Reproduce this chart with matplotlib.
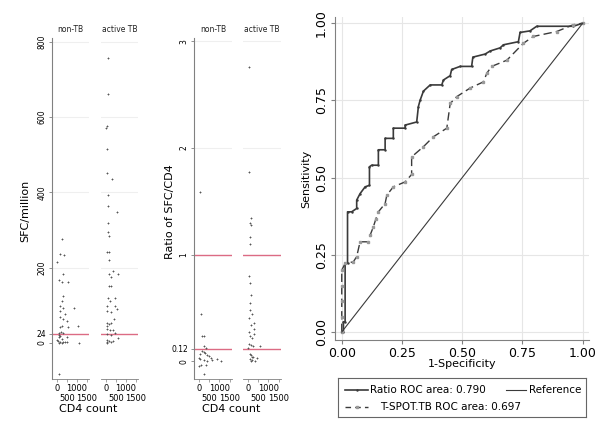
import numpy as np
import matplotlib
matplotlib.use("Agg")
import matplotlib.pyplot as plt

plt.rcParams['font.family'] = ['DejaVu Sans']

# SFC/million vs CD4 count
sfc_non_cd4 = [240, 160, 370, 0, 320, 80, 240, 530, 320, 240, 160, 320, 880, 160, 400, 160, 320,
               480, 240, 160, 1045, 560, 80, 320, 160, 480, 80, 240, 30, 160, 320, 480, 1100, 80,
               240, 400, 0, 120, 200, 80]
sfc_non_val = [276, 236, 234, 216, 183, 167, 161, 161, 124, 112, 99, 92, 92, 85, 78, 68, 63,
               59, 45, 43, 45, 43, 27, 27, 19, 16, 16, 10, 5, 1, 1, 1, 0, 0,
               0, 3, 8, 22, 30, -83]
sfc_act_cd4 = [83, 83, 70, 0, 50, 70, 300, 80, 100, 570, 80, 110, 150, 50, 130, 130, 330, 130,
               620, 230, 230, 130, 80, 450, 180, 50, 450, 550, 70, 230, 400, 50, 130, 230, 70,
               30, 180, 330, 450, 50, 230, 600, 30, 130, 330, 30, 70, 230]
sfc_act_val = [757, 661, 575, 570, 514, 452, 436, 394, 364, 347, 319, 294, 285, 241, 241, 219,
               192, 183, 183, 176, 152, 152, 119, 119, 112, 99, 99, 91, 85, 81, 63, 54, 50, 54,
               45, 37, 33, 34, 27, 24, 20, 14, 8, 5, 6, 1, 0, 1]

# ratio of SFC/CD4 vs CD4 count
rat_non_cd4 = [50, 80, 150, 230, 230, 350, 150, 230, 50, 300, 400, 480, 600, 0, 50, 230, 400,
               650, 870, 1060, 80, 330, 0, 230]
rat_non_val = [1.59, 0.445, 0.24, 0.24, 0.146, 0.13, 0.1, 0.09, 0.07, 0.08, 0.06, 0.05, 0.035,
               0.035, 0.02, 0.01, 0.0, 0.01, 0.02, 0.0, -0.03, -0.03, -0.04, -0.12]
rat_act_cd4 = [50, 50, 150, 100, 150, 80, 100, 20, 100, 150, 80, 100, 200, 60, 260, 150, 300,
               30, 260, 80, 200, 60, 150, 210, 0, 600, 80, 150, 200, 250, 450, 80, 200, 350, 120]
rat_act_val = [2.76, 1.77, 1.34, 1.30, 1.28, 1.17, 1.10, 0.80, 0.73, 0.62, 0.55, 0.48, 0.44,
               0.41, 0.36, 0.34, 0.30, 0.28, 0.26, 0.24, 0.22, 0.16, 0.15, 0.14, 0.13, 0.14,
               0.07, 0.06, 0.04, 0.04, 0.03, 0.02, 0.01, 0.0, 0.0]

# ROC curves
ratio_fpr = [0, 0.007, 0.007, 0.014, 0.014, 0.024, 0.024, 0.041, 0.062, 0.062, 0.076, 0.097,
             0.115, 0.115, 0.124, 0.152, 0.152, 0.18, 0.18, 0.214, 0.214, 0.263, 0.263, 0.311,
             0.318, 0.325, 0.339, 0.367, 0.415, 0.422, 0.45, 0.456, 0.491, 0.539, 0.544, 0.595,
             0.616, 0.657, 0.671, 0.733, 0.74, 0.781, 0.809, 0.961, 1.0]
ratio_tpr = [0, 0.0, 0.033, 0.033, 0.222, 0.222, 0.389, 0.389, 0.40, 0.427, 0.448, 0.47,
             0.475, 0.535, 0.54, 0.54, 0.59, 0.59, 0.627, 0.627, 0.66, 0.66, 0.67, 0.68,
             0.73, 0.75, 0.78, 0.80, 0.80, 0.816, 0.83, 0.85, 0.86, 0.86, 0.89, 0.90,
             0.91, 0.92, 0.93, 0.94, 0.97, 0.975, 0.99, 0.99, 1.0]
tspot_fpr = [0, 0, 0, 0, 0, 0.014, 0.048, 0.062, 0.076, 0.111, 0.118, 0.131, 0.142, 0.152,
             0.18, 0.187, 0.214, 0.263, 0.29, 0.29, 0.339, 0.38, 0.436, 0.45, 0.477, 0.533,
             0.588, 0.602, 0.622, 0.685, 0.754, 0.795, 0.892, 0.961, 1.0]
tspot_tpr = [0, 0.05, 0.10, 0.15, 0.20, 0.222, 0.227, 0.244, 0.292, 0.292, 0.314, 0.34, 0.367,
             0.389, 0.416, 0.443, 0.47, 0.486, 0.51, 0.567, 0.60, 0.632, 0.66, 0.74, 0.762,
             0.79, 0.81, 0.838, 0.86, 0.88, 0.935, 0.957, 0.973, 0.995, 1.0]

legend_labels = ['Ratio ROC area: 0.790', 'Reference', 'T-SPOT.TB ROC area: 0.697']

W, H = 600, 437
fig = plt.figure(figsize=(6, 4.37), dpi=100)


def px_axes(x0, y0, x1, y1):
    return fig.add_axes([x0 / W, 1 - y1 / H, (x1 - x0) / W, (y1 - y0) / H])


red = '#dc6b84'
grid = '#efefef'
axc = '#808080'


def strip_panel(ax, cd4, val, title, ylim, cut, first, yticks, ylabels, horiz):
    ax.set_xlim(-260, 1620)
    ax.set_ylim(*ylim)
    for t in yticks:
        if t not in (0, cut):
            ax.axhline(t, color=grid, lw=0.8, zorder=0)
    ax.axhline(cut, color=red, lw=1.0, zorder=1)
    ax.scatter(cd4, val, s=4, marker='+', color='#555555', linewidths=0.6, zorder=2)
    ax.spines['top'].set_visible(False)
    ax.spines['right'].set_visible(False)
    ax.spines['bottom'].set_color(axc)
    ax.spines['bottom'].set_linewidth(0.6)
    # staggered x labels: 0/1000 on first row, 500/1500 below
    ax.set_xticks([0, 1000])
    ax.set_xticklabels(['0', '1000'], fontsize=6)
    ax.set_xticks([500, 1500], minor=True)
    ax.set_xticklabels(['500', '1500'], minor=True, fontsize=6)
    ax.tick_params(axis='x', which='major', length=2, width=0.5, color=axc, pad=1.5)
    ax.tick_params(axis='x', which='minor', length=2, width=0.5, color=axc, pad=8.5)
    ax.set_title(title, fontsize=5.5, pad=4, color='#222222')
    if first:
        ax.spines['left'].set_color(axc)
        ax.set_yticks(yticks)
        ax.set_yticklabels(ylabels, fontsize=5.5)
        for lab, h in zip(ax.get_yticklabels(), horiz):
            if not h:
                lab.set_rotation(90)
                lab.set_va('center')
        ax.tick_params(axis='y', length=2.5, width=0.6, color=axc, pad=1.5)
    else:
        ax.spines['left'].set_visible(False)
        ax.set_yticks([])


# panel 1: SFC/million
a1 = px_axes(52, 38, 89, 379)
strip_panel(a1, sfc_non_cd4, sfc_non_val, 'non-TB', (-96, 810), 24, True,
            [0, 24, 200, 400, 600, 800], ['0', '24', '200', '400', '600', '800'],
            [False, True, False, False, False, False])
a2 = px_axes(101, 38, 138, 379)
strip_panel(a2, sfc_act_cd4, sfc_act_val, 'active TB', (-96, 810), 24, False,
            [0, 24, 200, 400, 600, 800], None, None)
fig.text(25 / W, 1 - 211 / H, 'SFC/million', rotation=90, ha='center', va='center', fontsize=8)
fig.text(88 / W, 1 - 409 / H, 'CD4 count', ha='center', va='center', fontsize=8)

# panel 2: ratio
b1 = px_axes(194, 38, 232, 379)
strip_panel(b1, rat_non_cd4, rat_non_val, 'non-TB', (-0.165, 3.03), 0.12, True,
            [0, 0.12, 1, 2, 3], ['0', '0.12', '1', '2', '3'],
            [False, True, False, False, False])
b1.axhline(1, color=red, lw=1.0, zorder=1)
b2 = px_axes(243, 38, 281, 379)
strip_panel(b2, rat_act_cd4, rat_act_val, 'active TB', (-0.165, 3.03), 0.12, False,
            [0, 0.12, 1, 2, 3], None, None)
b2.axhline(1, color=red, lw=1.0, zorder=1)
fig.text(170 / W, 1 - 212 / H, 'Ratio of SFC/CD4', rotation=90, ha='center', va='center', fontsize=8)
fig.text(231 / W, 1 - 409 / H, 'CD4 count', ha='center', va='center', fontsize=8)

# panel 3: ROC
ax = px_axes(335, 17, 589, 340)
ax.set_xlim(-0.028, 1.026)
ax.set_ylim(-0.026, 1.02)
ticks = [0, 0.25, 0.5, 0.75, 1.0]
ax.set_xticks(ticks)
ax.set_yticks(ticks)
ax.set_xticklabels(['0.00', '0.25', '0.50', '0.75', '1.00'], fontsize=9)
ax.set_yticklabels(['0.00', '0.25', '0.50', '0.75', '1.00'], fontsize=9, rotation=90, va='center')
ax.grid(True, color='#e6e6e6', lw=0.8)
ax.set_axisbelow(True)
for s in ['top', 'right']:
    ax.spines[s].set_visible(False)
for s in ['left', 'bottom']:
    ax.spines[s].set_color(axc)
ax.tick_params(length=3, color=axc, pad=2)
ax.plot(ratio_fpr, ratio_tpr, color='#3a3a3a', lw=1.2, marker='.', ms=1.5)
ax.plot(tspot_fpr, tspot_tpr, color='#3a3a3a', lw=1.0, ls=(0, (6, 3)),
        marker='s', ms=1.6, mfc='#999999', mec='#999999')
ax.plot([0, 1], [0, 1], color='#3a3a3a', lw=0.8)
ax.set_xlabel('1-Specificity', fontsize=8, labelpad=-1)
ax.set_ylabel('Sensitivity', fontsize=8, labelpad=3)

# legend box, laid out like the Stata one
lg = px_axes(338, 378, 586, 417)
lg.set_xlim(338, 586)
lg.set_ylim(417, 378)
lg.set_xticks([])
lg.set_yticks([])
for s in lg.spines.values():
    s.set_color('#666666')
    s.set_linewidth(0.8)
lg.plot([345, 368], [390, 390], color='#3a3a3a', lw=1.2)
lg.plot([357], [390], color='#3a3a3a', marker='.', ms=1.5)
lg.text(370, 390, legend_labels[0], fontsize=7.5, va='center', ha='left')
lg.plot([506, 526], [390, 390], color='#3a3a3a', lw=0.8)
lg.text(529, 390, legend_labels[1], fontsize=7.5, va='center', ha='left')
lg.plot([345, 368], [407, 407], color='#3a3a3a', lw=1.0, ls=(0, (4, 3)))
lg.plot([357], [407], marker='s', ms=1.6, mfc='#999999', mec='#999999')
lg.text(380, 407, legend_labels[2], fontsize=7.5, va='center', ha='left')

fig.savefig('out.png', dpi=100)
